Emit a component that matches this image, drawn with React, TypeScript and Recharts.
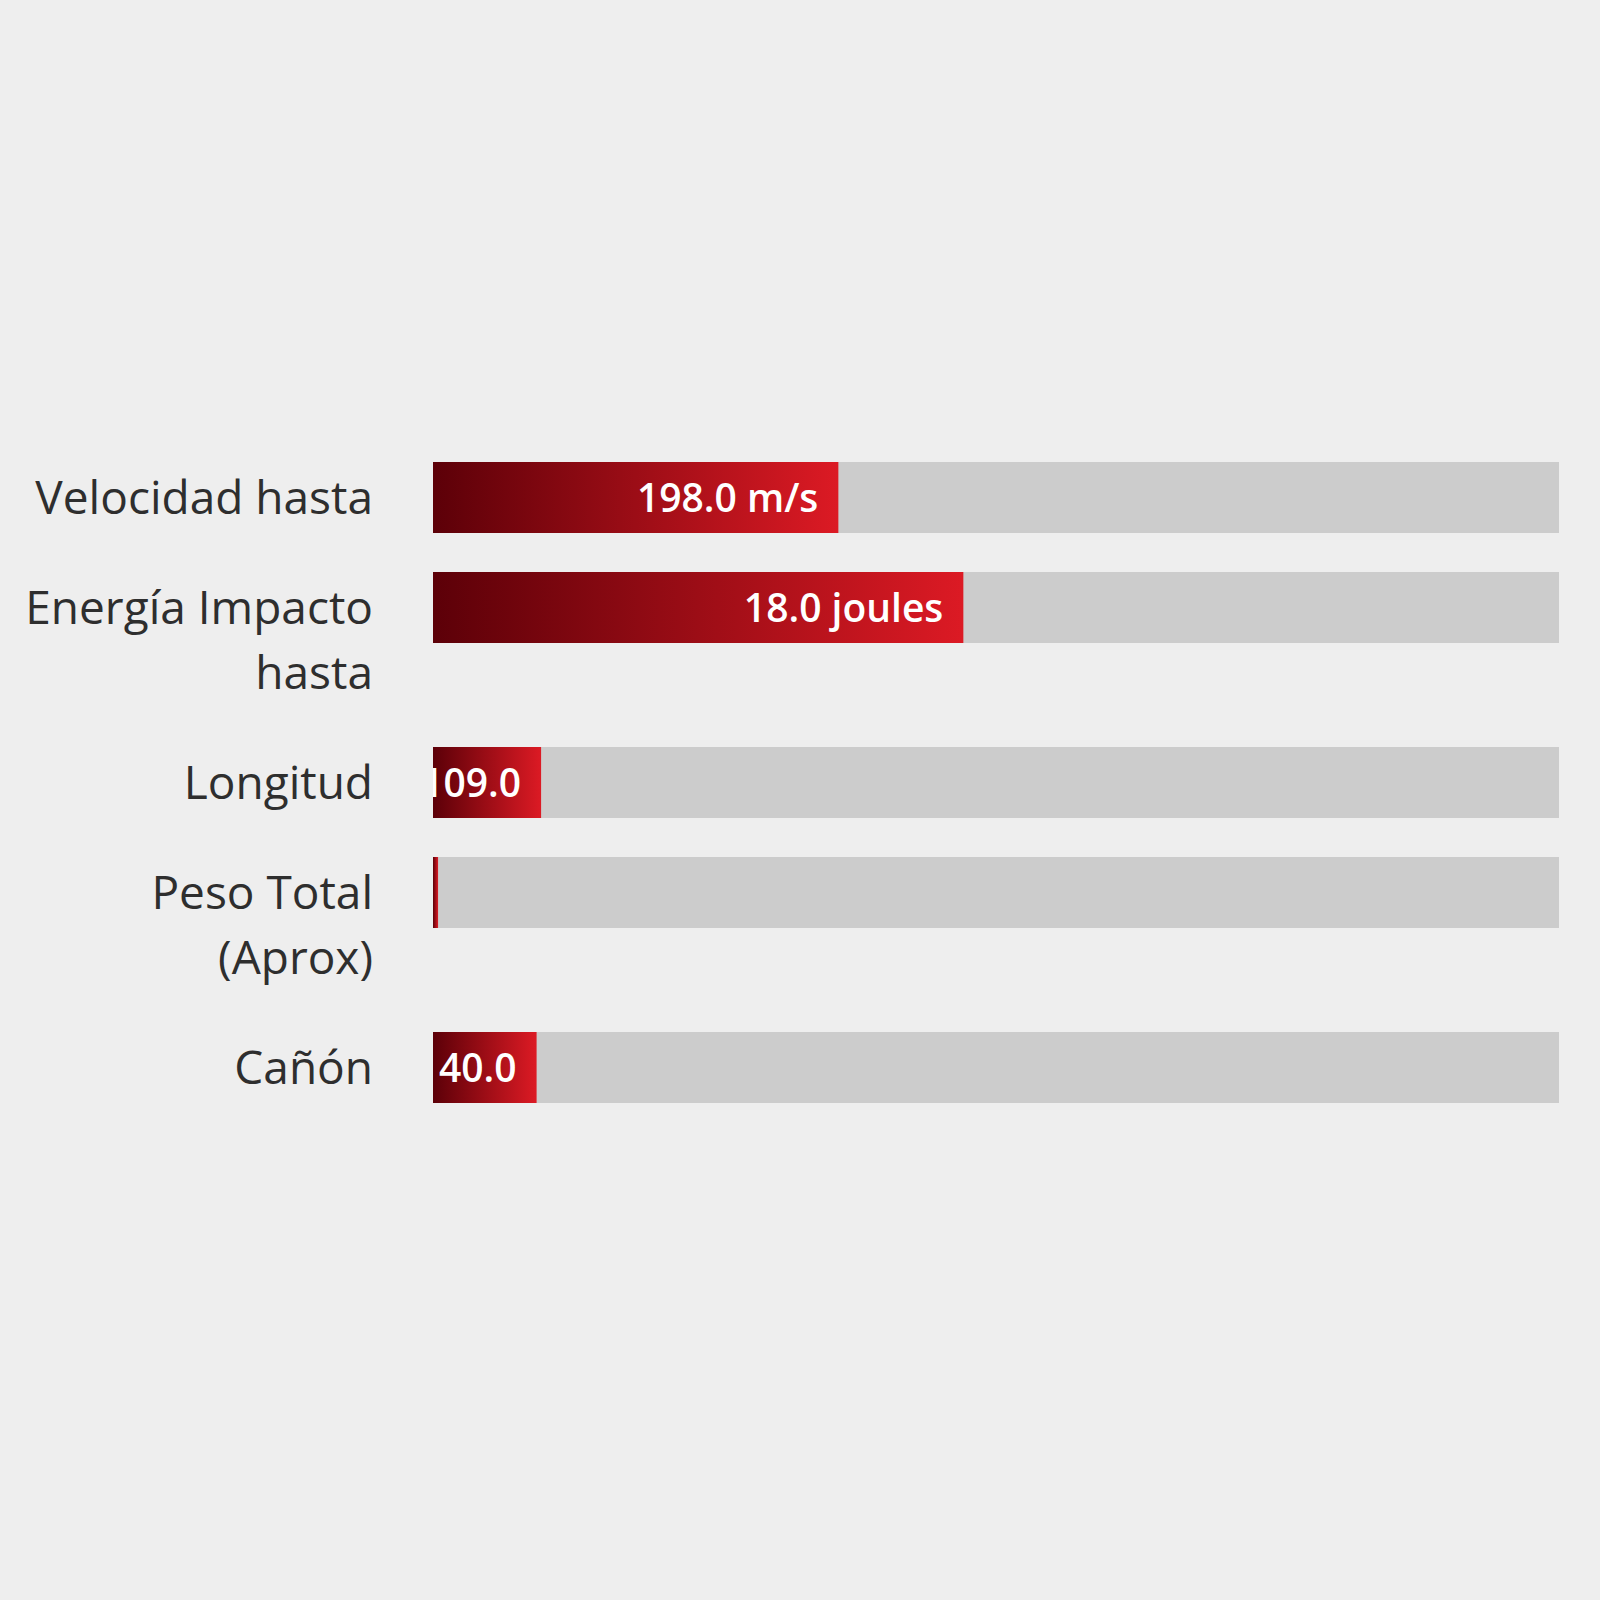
import React from "react";
import { Bar, BarChart, XAxis, YAxis } from "recharts";

// label lines for each row, as wrapped in the reference
const categoryLines = [
  ["Velocidad hasta"],
  ["Energía Impacto", "hasta"],
  ["Longitud"],
  ["Peso Total", "(Aprox)"],
  ["Cañón"]
];
// share of the track filled (%)
const fillPercent = [36, 47.1, 9.6, 0.45, 9.2];
const valueLabels = ["198.0 m/s", "18.0 joules", "109.0", "", "40.0"];

const rows = categoryLines.map((lines, i) => ({
  name: lines.join(" "),
  lines,
  pct: fillPercent[i],
  label: valueLabels[i]
}));

const BAR_H = 71;
const LINE_H = 65;

function CategoryTick(props: any) {
  const { x, y, lines } = props;
  return (
    <text
      x={x}
      y={y}
      textAnchor="end"
      fill="#2e2e2e"
      style={{ fontFamily: "'Open Sans', sans-serif", fontSize: 46 }}
    >
      {lines.map((l: string, i: number) => (
        <tspan key={i} x={x} dy={i === 0 ? 16 : LINE_H}>
          {l}
        </tspan>
      ))}
    </text>
  );
}

function RedBar(props: any) {
  const { x, y, width, height, payload, rowIndex } = props;
  const clipId = `bar-clip-${rowIndex}`;
  return (
    <g>
      <defs>
        <clipPath id={clipId}>
          <rect x={x} y={y} width={width} height={height} />
        </clipPath>
      </defs>
      <rect x={x} y={y} width={width} height={height} fill={`url(#red-grad-${rowIndex})`} />
      {payload.label ? (
        <text
          x={x + width - 20}
          y={y + height / 2}
          dy={14}
          textAnchor="end"
          fill="#ffffff"
          clipPath={`url(#${clipId})`}
          style={{ fontFamily: "'Open Sans', sans-serif", fontSize: 39, fontWeight: 600 }}
        >
          {payload.label}
        </text>
      ) : null}
    </g>
  );
}

function Row({ row, index }: { row: (typeof rows)[number]; index: number }) {
  const isLast = index === rows.length - 1;
  const gap = isLast ? 0 : 39 + (row.lines.length - 1) * LINE_H;
  return (
    <BarChart
      width={1600}
      height={BAR_H + gap}
      data={[row]}
      layout="vertical"
      barCategoryGap="0%"
      margin={{ top: 0, right: 41, bottom: gap, left: 0 }}
    >
      <defs>
        <linearGradient id={`red-grad-${index}`} x1="0" y1="0" x2="1" y2="0">
          <stop offset="0%" stopColor="#5c0008" />
          <stop offset="100%" stopColor="#dc1a24" />
        </linearGradient>
      </defs>
      <XAxis type="number" domain={[0, 100]} hide />
      <YAxis
        type="category"
        dataKey="name"
        width={433}
        axisLine={false}
        tickLine={false}
        tickSize={0}
        tickMargin={60}
        interval={0}
        tick={<CategoryTick lines={row.lines} />}
      />
      <Bar
        dataKey="pct"
        background={{ fill: "#cccccc" }}
        shape={(p: any) => <RedBar {...p} rowIndex={index} />}
        isAnimationActive={false}
      />
    </BarChart>
  );
}

export default function App() {
  return (
    <div
      style={{
        position: "absolute",
        left: 0,
        top: 0,
        width: 1600,
        height: 1600,
        background: "#eeeeee",
        paddingTop: 462,
        boxSizing: "border-box"
      }}
    >
      {rows.map((row, i) => (
        <Row key={row.name} row={row} index={i} />
      ))}
    </div>
  );
}
